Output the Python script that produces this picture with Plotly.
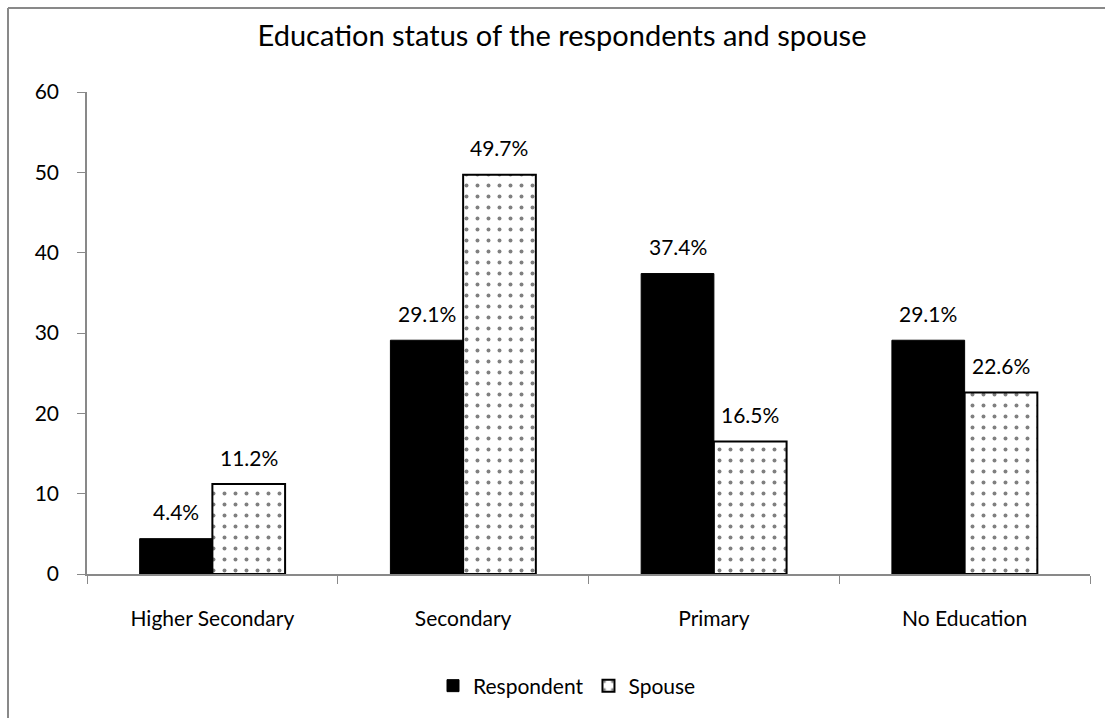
import plotly.graph_objects as go

categories = ["Higher Secondary", "Secondary", "Primary", "No Education"]
respondent = [4.4, 29.1, 37.4, 29.1]
spouse = [11.2, 49.7, 16.5, 22.6]
y_ticks = [0, 10, 20, 30, 40, 50, 60]

FONT = "Lato, Open Sans, sans-serif"
L, R, T, B = 87, 15, 92, 144
W, H = 1105, 718
pw = W - L - R
ph = H - T - B
BARGAP = 0.42
bar_px = pw / len(categories) * (1 - BARGAP) / 2

fig = go.Figure()
fig.add_trace(go.Bar(
    name="Respondent", x=categories, y=respondent,
    marker=dict(color="black", line=dict(color="black", width=1)),
))
fig.add_trace(go.Bar(
    name="Spouse", x=categories, y=spouse,
    marker=dict(color="white", line=dict(color="black", width=2),
                pattern=dict(shape=".", fgcolor="black", bgcolor="white",
                             size=11, solidity=0.1)),
))

for vals, sign in ((respondent, -1), (spouse, 1)):
    for c, v in zip(categories, vals):
        fig.add_annotation(x=c, y=v, text=f"{v}%", showarrow=False,
                           xshift=sign * bar_px / 2, yshift=27,
                           yanchor="middle",
                           font=dict(size=21, color="black", family=FONT))

def px_x(p):
    return (p - L) / pw

def px_y(p):
    return (H - B - p) / ph

fig.add_shape(type="line", xref="paper", yref="paper",
              x0=px_x(8), x1=px_x(1200), y0=px_y(8), y1=px_y(8),
              line=dict(color="#898989", width=2))
fig.add_shape(type="line", xref="paper", yref="paper",
              x0=px_x(8), x1=px_x(8), y0=px_y(8), y1=px_y(800),
              line=dict(color="#898989", width=2))

fig.update_layout(
    width=W, height=H,
    margin=dict(l=L, r=R, t=T, b=B),
    paper_bgcolor="white", plot_bgcolor="white",
    title=dict(text="Education status of the respondents and spouse",
               x=562 / W, xanchor="center", y=1 - 36 / H, yanchor="middle",
               font=dict(size=29, color="black", family=FONT)),
    barmode="group", bargap=BARGAP, bargroupgap=0,
    font=dict(family=FONT, color="black", size=21),
    showlegend=True,
    legend=dict(orientation="h", x=px_x(567), xanchor="center",
                y=px_y(686), yanchor="middle",
                font=dict(size=21, family=FONT), itemwidth=30,
                traceorder="normal"),
    xaxis=dict(showline=True, linecolor="#898989", linewidth=1.5,
               ticks="outside", tickson="boundaries", ticklen=8,
               tickcolor="#898989", tickfont=dict(size=21, family=FONT),
               showgrid=False, ticklabelstandoff=25),
    yaxis=dict(range=[0, 60], tickvals=y_ticks, showline=True,
               linecolor="#898989", linewidth=1.5, ticks="outside",
               ticklen=8, tickcolor="#898989", showgrid=False,
               zeroline=False, tickfont=dict(size=21, family=FONT),
               ticklabelstandoff=14),
)

fig.write_html("out.html")
